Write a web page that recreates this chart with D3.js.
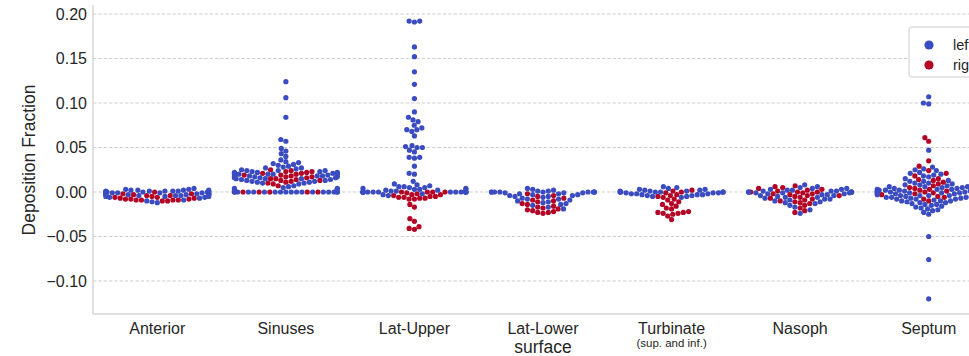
<!DOCTYPE html>
<html>
<head>
<meta charset="utf-8">
<script src="https://cdn.jsdelivr.net/npm/d3@7"></script>
<style>
  body { margin: 0; background: #ffffff; }
  svg { display: block; font-family: "Liberation Sans", Arial, Helvetica, sans-serif; }
</style>
</head>
<body>
<svg id="chart" width="969" height="356"></svg>
<script>
// Surface categories along the x axis
const categories = ["Anterior", "Sinuses", "Lat-Upper", "Lat-Lower", "Turbinate", "Nasoph", "Septum"];
const subLabels = ["", "", "", "", "(sup. and inf.)", "", ""];
const yTicks = [-0.10, -0.05, 0.00, 0.05, 0.10, 0.15, 0.20];
const sides = ["left", "right"];
const sideColors = ["#3b4cc0", "#b40426"];

// Deposition fraction per surface, left and right side
const anteriorLeft = [0.004, 0.003, 0.002, 0.002, 0.002, 0.001, 0.001, 0.001, 0.001, 0.001, 0.000, 0.000, 0.000, 0.000, 0.000, 0.000,
  -0.001, -0.001, -0.001, -0.001, -0.002, -0.002, -0.002, -0.002, -0.003, -0.003, -0.003, -0.004, -0.004, -0.004, -0.005, -0.005,
  -0.006, -0.009, -0.010, -0.011, -0.012, -0.003, 0.003, 0.002, 0.001, 0.000, -0.001, -0.002, -0.003, -0.005, -0.006, -0.007];
const anteriorRight = [0.000, -0.002, -0.003, -0.004, -0.005, -0.006, -0.007, -0.007, -0.008, -0.008, -0.008, -0.009, -0.009, -0.009,
  -0.010, -0.010, -0.002, -0.004, -0.006, -0.009];

const sinusesLeft = [0, 0, 0, 0, 0, 0, 0, 0, 0, 0, 0, 0, 0, 0, 0, 0, 0,
  0.124, 0.106, 0.084, 0.059, 0.057, 0.049, 0.046, 0.043, 0.040, 0.036, 0.034, 0.033, 0.032, 0.031, 0.030, 0.028, 0.027, 0.026,
  0.025, 0.024, 0.024, 0.023, 0.022, 0.022, 0.021, 0.021, 0.020, 0.020, 0.019, 0.019, 0.018, 0.018, 0.017, 0.017, 0.016, 0.016,
  0.015, 0.015, 0.014, 0.014, 0.013, 0.012, 0.011, 0.010, 0.009, 0.007, 0.005, 0.004, 0.002,
  0.029, 0.027, 0.024, 0.023, 0.022, 0.021, 0.020, 0.019, 0.018, 0.017, 0.016, 0.015, 0.013, 0.012, 0.011, 0.010, 0.006, 0.004, 0.003];
const sinusesRight = [0.025, 0.024, 0.023, 0.022, 0, 0, 0, 0.021, 0, 0.020, 0, 0.019, 0.018, 0,
  0.017, 0.016, 0.015, 0.014, 0.013, 0.012, 0.011, 0.010, 0.009, 0.007,
  0.023, 0.021, 0.019, 0.017, 0.015, 0.013];

const latUpperLeft = [0.191, 0.192, 0.192, 0.163, 0.152, 0.135, 0.121, 0.105, 0.090, 0.084, 0.081, 0.079, 0.075, 0.072, 0.070,
  0.070, 0.068, 0.063, 0.052, 0.051, 0.050, 0.050, 0.047, 0.045, 0.039, 0.039, 0.038, 0.029, 0.021, 0.020, 0.012, 0.009, 0.008,
  0.007, 0.006, 0.006, 0.005, 0.005, 0.004, 0.004, 0.003, 0.003, 0.003, 0.002, 0.002, 0.001, 0.001,
  0, 0, 0, 0, 0, 0, 0, 0, 0, 0, 0, 0, 0, 0, 0, -0.002, -0.004, -0.003];
const latUpperRight = [-0.042, -0.041, -0.039, -0.033, -0.030, -0.017, -0.014, -0.008, -0.008, -0.007, -0.007, -0.006, -0.006,
  -0.005, -0.005, -0.004, -0.003, -0.003, -0.002, -0.001, 0, 0, 0, 0];

const latLowerLeft = [0.004, 0.003, 0.002, 0.001, 0.001, 0, 0, 0, 0, 0, 0, 0, 0, 0, -0.001, -0.001, -0.001, -0.002, -0.002,
  -0.003, -0.003, -0.004, -0.004, -0.005, -0.005, -0.006, -0.007, -0.008, -0.008, -0.009, -0.010, -0.011, -0.012, -0.013,
  -0.014, -0.015, -0.017, -0.019];
const latLowerRight = [-0.002, -0.004, -0.005, -0.007, -0.009, -0.010, -0.011, -0.013, -0.014, -0.016, -0.017, -0.018, -0.019,
  -0.020, -0.021, -0.022, -0.023, -0.023, -0.024];

const turbinateLeft = [0.006, 0.005, 0.004, 0.003, 0.003, 0.002, 0.002, 0.001, 0.001, 0.001, 0, 0, 0, 0, 0, 0, 0, 0,
  -0.001, -0.001, -0.001, -0.002, -0.002, -0.002, -0.003, -0.003, -0.003, -0.004, -0.004, -0.005, -0.005, -0.006];
const turbinateRight = [0.002, 0.001, 0.000, -0.001, -0.003, -0.004, -0.005, -0.006, -0.008, -0.009, -0.011, -0.013, -0.014,
  -0.016, -0.018, -0.019, -0.022, -0.023, -0.023, -0.024, -0.024, -0.025, -0.027, -0.031];

const nasophLeft = [0.008, 0.006, 0.005, 0.004, 0.004, 0.003, 0.003, 0.002, 0.002, 0.001, 0.001, 0.001, 0, 0, 0, 0, 0, 0, 0,
  -0.001, -0.001, -0.001, -0.002, -0.002, -0.003, -0.003, -0.004, -0.004, -0.005, -0.006, -0.007, -0.008, -0.009, -0.010,
  -0.012, -0.013, -0.015, -0.017, -0.020, -0.024, -0.006, -0.008, -0.011];
const nasophRight = [0.007, 0.006, 0.005, 0.004, 0.003, 0.002, 0.001, 0, 0, 0, -0.001, -0.002, -0.002, -0.003, -0.004, -0.005,
  -0.006, -0.007, -0.008, -0.009, -0.011, -0.013, -0.015, -0.018, -0.021, -0.023, -0.004, -0.010, -0.012];

const septumLeft = [0.107, 0.100, 0.099, 0.047, 0.028, 0.026, 0.025, 0.024, 0.022, 0.021, 0.020, 0.019, 0.018, 0.017, 0.015,
  0.013, 0.012, 0.010, 0.009, 0.008, 0.007, 0.006, 0.006, 0.005, 0.005, 0.004, 0.004, 0.004, 0.003, 0.003, 0.003, 0.002, 0.002,
  0.002, 0.001, 0.001, 0.001, 0.001, 0, 0, 0, 0, -0.001, -0.001, -0.001, -0.002, -0.002, -0.002, -0.003, -0.003, -0.003,
  -0.004, -0.004, -0.004, -0.005, -0.005, -0.006, -0.006, -0.007, -0.007, -0.008, -0.008, -0.009, -0.010, -0.010, -0.011,
  -0.012, -0.013, -0.014, -0.015, -0.016, -0.018, -0.020, -0.023, -0.025, -0.050, -0.076, -0.120,
  0.012, 0.010, 0.008, 0.006, 0.004, 0.002, 0.000, -0.002, -0.004, -0.006, -0.008, -0.010, -0.012, -0.014, -0.017, -0.019, -0.021];
const septumRight = [0.061, 0.057, 0.035, 0.029, 0.024, 0.021, 0.015, 0.014, 0.013, 0.011, 0.009, 0.007, 0.004, 0.003, 0.002,
  0.001, 0, -0.002, -0.003, -0.005, -0.008, -0.010, 0.018, 0.005, -0.001, -0.006];

const leftBySurface = [anteriorLeft, sinusesLeft, latUpperLeft, latLowerLeft, turbinateLeft, nasophLeft, septumLeft];
const rightBySurface = [anteriorRight, sinusesRight, latUpperRight, latLowerRight, turbinateRight, nasophRight, septumRight];

// ---- layout ----
const W = 969, H = 356;
const plotLeft = 93, plotRight = 993, plotTop = 5, plotBottom = 314;
const svg = d3.select("#chart");
const textColor = "#262626";

const x = d3.scaleBand().domain(categories).range([plotLeft, plotRight]).padding(0);
const y = d3.scaleLinear().domain([-0.1371, 0.2101]).range([plotBottom, plotTop]);
const color = d3.scaleOrdinal().domain(sides).range(sideColors);

// horizontal dashed grid
svg.append("g").selectAll("line").data(yTicks).join("line")
  .attr("x1", plotLeft).attr("x2", W)
  .attr("y1", d => y(d)).attr("y2", d => y(d))
  .attr("stroke", "#cfcfcf").attr("stroke-width", 1)
  .attr("stroke-dasharray", "3.5,1.8");

// spines (left and bottom only)
svg.append("line").attr("x1", plotLeft).attr("x2", plotLeft).attr("y1", plotTop).attr("y2", plotBottom)
  .attr("stroke", "#d6d6d6").attr("stroke-width", 1.5);
svg.append("line").attr("x1", plotLeft).attr("x2", W).attr("y1", plotBottom).attr("y2", plotBottom)
  .attr("stroke", "#d6d6d6").attr("stroke-width", 1.5);

// y axis tick labels
const fmt = d3.format(".2f");
const yAxis = d3.axisLeft(y).tickValues(yTicks).tickSize(0).tickPadding(6)
  .tickFormat(d => fmt(d).replace("-", "\u2212"));
const yAxisG = svg.append("g").attr("transform", `translate(${plotLeft},0)`).call(yAxis);
yAxisG.select(".domain").remove();
yAxisG.selectAll("text").attr("font-size", 16).attr("fill", textColor)
  .attr("font-family", "'Liberation Sans', Arial, sans-serif");

// x axis tick labels
const xAxis = d3.axisBottom(x).tickSize(0).tickPadding(9);
const xAxisG = svg.append("g").attr("transform", `translate(0,${plotBottom})`).call(xAxis);
xAxisG.select(".domain").remove();
xAxisG.selectAll("text").attr("font-size", 16).attr("fill", textColor)
  .attr("font-family", "'Liberation Sans', Arial, sans-serif");
svg.append("g").selectAll("text").data(categories.map((c, i) => ({ c, s: subLabels[i] })).filter(d => d.s))
  .join("text")
  .attr("x", d => x(d.c) + x.bandwidth() / 2).attr("y", 347)
  .attr("text-anchor", "middle").attr("font-size", 11.5).attr("fill", textColor)
  .text(d => d.s);

// axis titles
svg.append("text")
  .attr("transform", `translate(35,160) rotate(-90)`)
  .attr("text-anchor", "middle").attr("font-size", 17.5).attr("fill", textColor)
  .text("Deposition Fraction");
svg.append("text")
  .attr("x", (plotLeft + plotRight) / 2).attr("y", 353)
  .attr("text-anchor", "middle").attr("font-size", 17.5).attr("fill", textColor)
  .text("surface");

// ---- swarm placement ----
const R = 2.55;            // layout radius in px
const halfWidth = 0.4 * x.bandwidth();

function placeSwarm(points, cx) {
  const placed = [];
  points.forEach(p => {
    const nbrs = [];
    for (let j = placed.length - 1; j >= 0; j--) {
      const q = placed[j];
      if (q.py - p.py < 2 * R) nbrs.push(q); else break;
    }
    const cands = [cx];
    let leftFirst = true;
    nbrs.forEach(q => {
      const dy = q.py - p.py;
      const dx = Math.sqrt(Math.max(4 * R * R - dy * dy, 0)) * 1.05;
      if (leftFirst) cands.push(q.px - dx, q.px + dx); else cands.push(q.px + dx, q.px - dx);
      leftFirst = !leftFirst;
    });
    const order = cands.map((cxv, i) => ({ cxv, i }))
      .sort((a, b) => (Math.abs(a.cxv - cx) - Math.abs(b.cxv - cx)) || (a.i - b.i));
    let chosen = cx;
    for (const c of order) {
      const ok = nbrs.every(q => (q.px - c.cxv) ** 2 + (q.py - p.py) ** 2 >= 4 * R * R - 1e-6);
      if (ok) { chosen = c.cxv; break; }
    }
    p.px = chosen;
    placed.push(p);
  });
  // keep points that spill over inside the category's gutter
  points.forEach(p => { p.px = Math.max(cx - halfWidth, Math.min(cx + halfWidth, p.px)); });
}

const allPoints = [];
categories.forEach((cat, ci) => {
  const L = leftBySurface[ci], Rt = rightBySurface[ci];
  const rows = [];
  const n = Math.max(L.length, Rt.length);
  for (let i = 0; i < n; i++) {
    if (i < L.length) rows.push({ cat, side: "left", v: L[i], idx: rows.length });
    if (i < Rt.length) rows.push({ cat, side: "right", v: Rt[i], idx: rows.length });
  }
  rows.forEach(r => { r.py = y(r.v); });
  const sorted = rows.slice().sort((a, b) => (a.v - b.v) || (a.idx - b.idx));
  placeSwarm(sorted, x(cat) + x.bandwidth() / 2);
  rows.forEach(r => allPoints.push(r));
});

svg.append("g").selectAll("circle").data(allPoints).join("circle")
  .attr("cx", d => d.px).attr("cy", d => d.py).attr("r", 2.6)
  .attr("fill", d => color(d.side));

// ---- legend ----
const lg = svg.append("g").attr("transform", "translate(909,27)");
lg.append("rect").attr("x", 0).attr("y", 0).attr("width", 80).attr("height", 50).attr("rx", 3)
  .attr("fill", "#ffffff").attr("fill-opacity", 0.8).attr("stroke", "#cccccc").attr("stroke-width", 1);
sides.forEach((s, i) => {
  lg.append("circle").attr("cx", 20).attr("cy", 18 + i * 20).attr("r", 4.6).attr("fill", color(s));
  lg.append("text").attr("x", 44).attr("y", 23 + i * 20).attr("font-size", 14.5).attr("fill", textColor).text(s);
});
</script>
</body>
</html>
